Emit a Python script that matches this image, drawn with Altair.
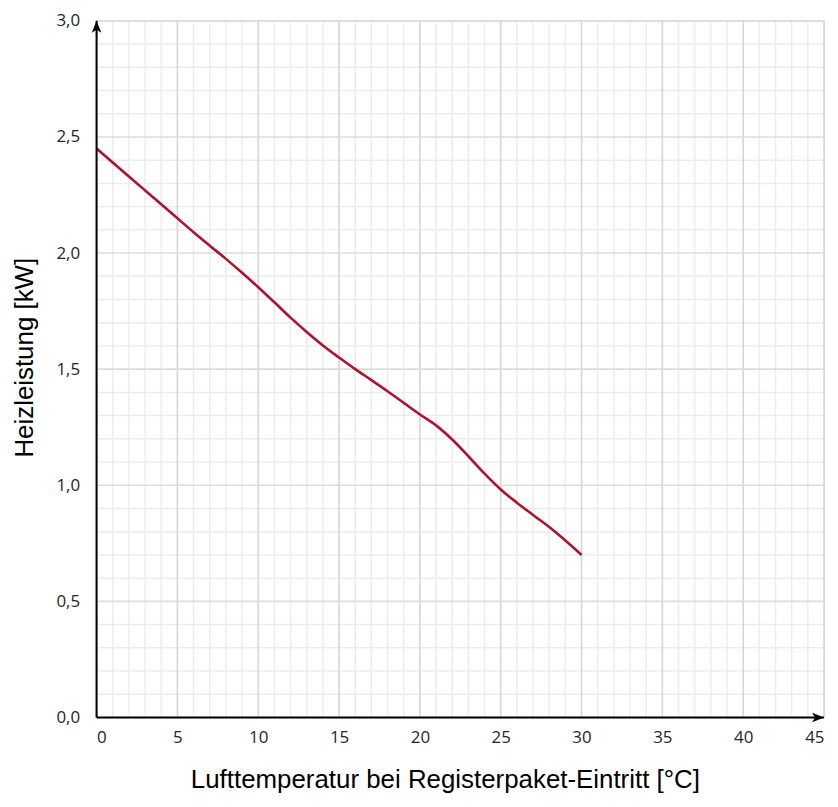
import altair as alt
import pandas as pd

# Curve data
temp = [0, 1, 2, 3, 4, 5, 6, 7, 8, 9, 10, 11, 12, 13, 14, 15, 16, 17, 18, 19,
        20, 21, 22, 23, 24, 25, 26, 27, 28, 29, 30]
power = [2.45, 2.39, 2.33, 2.27, 2.21, 2.15, 2.09, 2.032, 1.975, 1.915, 1.853,
         1.788, 1.722, 1.66, 1.602, 1.55, 1.50, 1.453, 1.405, 1.355,
         1.305, 1.258, 1.197, 1.125, 1.05, 0.982, 0.925, 0.872, 0.82, 0.762, 0.70]

x_major = [0, 5, 10, 15, 20, 25, 30, 35, 40, 45]
x_minor = [v for v in range(0, 46) if v % 5 != 0]
y_major = [0.0, 0.5, 1.0, 1.5, 2.0, 2.5, 3.0]
y_minor = [round(i / 10, 1) for i in range(0, 31) if i % 5 != 0]

XMAX, YMAX = 45, 3.0

xs = alt.Scale(domain=[0, XMAX], nice=False, zero=False)
ys = alt.Scale(domain=[0, YMAX], nice=False, zero=False)

lab_font = "Open Sans"
title_font = "Liberation Sans"

xaxis = alt.Axis(values=x_major, title="Lufttemperatur bei Registerpaket-Eintritt [°C]",
                 labelPadding=12, labelFontSize=17, labelFont=lab_font,
                 titleX=350, titleY=62, titleBaseline="middle",
                 titleAnchor="middle", titleAlign="center")
yaxis = alt.Axis(values=y_major, title="Heizleistung [kW]",
                 labelExpr="replace(format(datum.value, '.1f'), '.', ',')",
                 labelPadding=17, labelFontSize=17, labelFont=lab_font,
                 titleX=-72, titleY=338, titleAngle=-90,
                 titleBaseline="middle", titleAlign="center")

df = pd.DataFrame({"t": temp, "p": power})

minor_v = alt.Chart(pd.DataFrame({"x": x_minor})).mark_rule(
    color="#ececec", strokeWidth=1.5).encode(x=alt.X("x:Q", scale=xs, axis=xaxis))
major_v = alt.Chart(pd.DataFrame({"x": x_major})).mark_rule(
    color="#d6d6d6", strokeWidth=1.6).encode(x=alt.X("x:Q", scale=xs, axis=xaxis))
minor_h = alt.Chart(pd.DataFrame({"y": y_minor})).mark_rule(
    color="#ececec", strokeWidth=1.5).encode(y=alt.Y("y:Q", scale=ys, axis=yaxis))
major_h = alt.Chart(pd.DataFrame({"y": y_major})).mark_rule(
    color="#dcdcdc", strokeWidth=1.6).encode(y=alt.Y("y:Q", scale=ys, axis=yaxis))

curve = alt.Chart(df).mark_line(color="#b0122e", strokeWidth=2.6,
                                interpolate="monotone").encode(
    x=alt.X("t:Q", scale=xs, axis=xaxis), y=alt.Y("p:Q", scale=ys, axis=yaxis))

axes_df = pd.DataFrame({"x": [0, 0], "y": [0, 0], "x2": [XMAX, 0], "y2": [0, YMAX]})
axis_lines = alt.Chart(axes_df).mark_rule(color="#000000", strokeWidth=2).encode(
    x=alt.X("x:Q", scale=xs, axis=xaxis), y=alt.Y("y:Q", scale=ys, axis=yaxis),
    x2="x2:Q", y2="y2:Q")

up_arrow = alt.Chart(pd.DataFrame({"x": [0], "y": [YMAX]})).mark_point(
    shape="M0,0L0.8,2L0,1.5L-0.8,2Z", size=144, filled=True, opacity=1,
    color="#000000").encode(x=alt.X("x:Q", scale=xs, axis=xaxis),
                            y=alt.Y("y:Q", scale=ys, axis=yaxis))
right_arrow = alt.Chart(pd.DataFrame({"x": [XMAX], "y": [0]})).mark_point(
    shape="M0,0L-2,-0.8L-1.5,0L-2,0.8Z", size=144, filled=True, opacity=1,
    color="#000000").encode(x=alt.X("x:Q", scale=xs, axis=xaxis),
                            y=alt.Y("y:Q", scale=ys, axis=yaxis))

chart = alt.layer(minor_v, minor_h, major_v, major_h, curve, axis_lines,
                  up_arrow, right_arrow).properties(
    width=731, height=700,
    autosize=alt.AutoSizeParams(type="none"),
    padding={"left": 89, "top": 11, "right": 6, "bottom": 80},
).configure_view(stroke=None).configure(background="white").configure_axis(
    grid=False, ticks=False, domain=False,
    labelFont=lab_font, labelFontSize=17, labelColor="#262626",
    titleFont=title_font, titleFontSize=26, titleFontWeight="normal",
    titleColor="#000000",
)

chart.save("out.html", embed_options={"renderer": "svg", "actions": False})
